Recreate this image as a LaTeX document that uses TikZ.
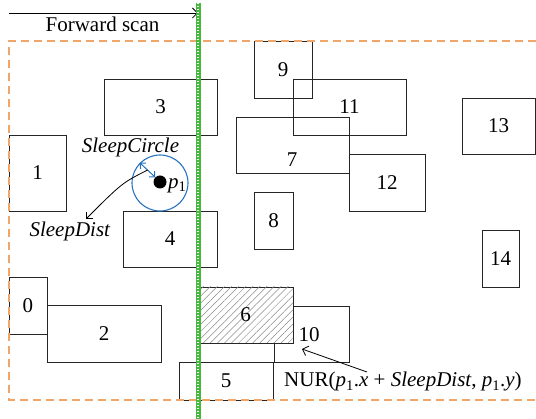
\documentclass[tikz,border=0pt]{standalone}
\usepackage{fontspec}
\setmainfont{Liberation Serif}
\usetikzlibrary{arrows.meta,patterns.meta,calc}
\definecolor{framecol}{RGB}{240,165,105}
\definecolor{scangreen}{RGB}{70,185,60}
\definecolor{circblue}{RGB}{40,115,190}
\begin{document}
\begin{tikzpicture}[x=1pt,y=-1pt,
  font=\fontsize{21}{25}\selectfont,
  box/.style={draw=black!85, line width=0.9pt, rectangle, inner sep=0pt, outer sep=0pt},
  hatched/.style={box, fill=white, postaction={pattern={Lines[angle=45,distance=5pt,line width=0.5pt]}, pattern color=black!45}},
  lbl/.style={inner sep=0pt},
  frameline/.style={draw=framecol, line width=1.4pt, dash pattern=on 8pt off 5pt},
  barb/.style={-{Straight Barb[length=5pt,width=10pt]}, line width=0.8pt}
]
\useasboundingbox (0,0) rectangle (536,419);

% rectangles
\node[box, minimum width=38,  minimum height=57] (b0)  at (28,305.5)   {0};
\node[box, minimum width=57,  minimum height=76] (b1)  at (37.5,173)   {1};
\node[box, minimum width=114, minimum height=57] (b2)  at (104,333.5)  {2};
\node[box, minimum width=113, minimum height=56] (b3)  at (160.5,107)  {3};
\node[box, minimum width=94,  minimum height=56] (b4)  at (170,239)    {4};
\node[box, minimum width=94,  minimum height=38] (b5)  at (226,381)    {5};
\node[box, minimum width=113, minimum height=56] (b7)  at (292.5,145)  {};
\node[lbl] (l7) at (292,160) {7};
\node[box, minimum width=39,  minimum height=57] (b8)  at (273.5,220.5) {8};
\node[box, minimum width=58,  minimum height=57] (b9)  at (283,69.5)   {9};
\node[box, minimum width=75,  minimum height=56] (b10) at (311.5,334)  {};
\node[lbl] (l10) at (309,335) {10};
\node[box, minimum width=113, minimum height=56] (b11) at (349.5,107)  {11};
\node[box, minimum width=76,  minimum height=57] (b12) at (387,182.5)  {12};
\node[box, minimum width=73,  minimum height=56] (b13) at (498.5,126)  {13};
\node[box, minimum width=37,  minimum height=57] (b14) at (500.5,258.5) {14};
\node[hatched, minimum width=95, minimum height=56] (b6) at (245.5,315) {6};

% search region
\draw[frameline] (536,41) -- (9,41) -- (9,400) -- (536,400);

% sleep circle around p1
\node[circle, draw=circblue, line width=1.1pt, minimum size=56, inner sep=0pt] (circ) at (160,183) {};
\node[circle, fill=black, minimum size=13, inner sep=0pt] (p) at (160,182) {};
\node[lbl, anchor=west] (plbl) at (168,186) {\textit{p}\textsubscript{1}};
\draw[circblue, line width=1pt, {Straight Barb[length=4pt,width=8pt]}-{Straight Barb[length=4pt,width=8pt]}] (circ.135) -- (p.135);
\node[lbl, anchor=base] (sc) at (130.5,153) {\textit{SleepCircle}};

% sleep distance label
\coordinate (sdstart) at ($(circ.135)!0.5!(p.135)$);
\coordinate (sdend) at (86,219);
\node[lbl, anchor=base] (sd) at (70,236.5) {\textit{SleepDist}};
\draw[barb] (sdstart) .. controls (122,183) .. (sdend);

% nearest upper-right query
\node[lbl, anchor=base west] (nur) at (284,387) {NUR(\textit{p}\textsubscript{1}.\textit{x} + \textit{SleepDist}, \textit{p}\textsubscript{1}.\textit{y})};
\coordinate (nurfrom) at (367,372);
\coordinate (nurto) at (302,349);
\draw[barb] (nurfrom) -- (nurto);

% forward scan line
\coordinate (scantop) at (198,3);
\coordinate (scanbot) at (198,419);
\coordinate (fsstart) at (9,13);
\coordinate (fsend) at (198,13);
\draw[barb] (fsstart) -- (fsend);
\node[lbl, anchor=base] (fs) at (102.5,32) {Forward scan};
\draw[scangreen, line width=5pt] (scantop) -- (scanbot);
\draw[white, line width=1.3pt, dash pattern=on 1.3pt off 1.7pt] (scantop) -- (scanbot);
\end{tikzpicture}
\end{document}
